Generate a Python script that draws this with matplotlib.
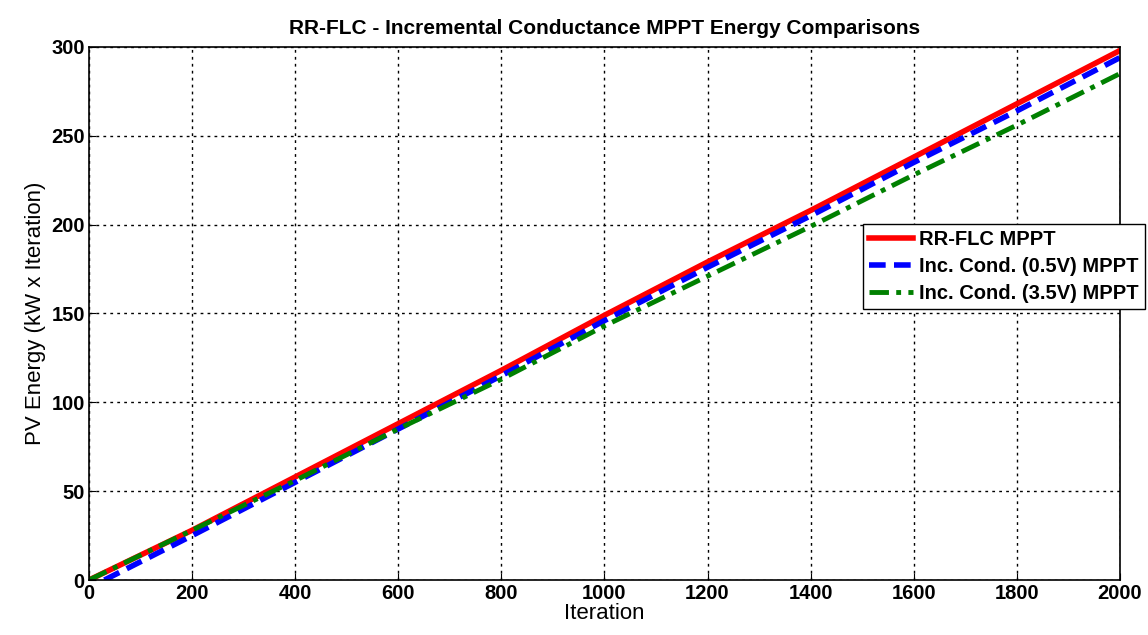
import numpy as np
import matplotlib.pyplot as plt

plt.rcParams['font.family'] = ['Liberation Sans', 'DejaVu Sans']

# values
it_red = [0, 200, 400, 600, 800, 1000, 1200, 1400, 1600, 1800, 2000]
e_red = [0, 28, 58, 88, 118, 149, 179, 208, 238, 268, 298]
it_blue = [30, 200, 400, 600, 800, 1000, 1200, 1400, 1600, 1800, 2000]
e_blue = [0, 25, 55, 85, 115, 146, 176, 205, 235, 264, 294]
it_green = [0, 200, 400, 600, 800, 1000, 1200, 1400, 1600, 1800, 2000]
e_green = [0, 28, 56, 85, 113, 143, 171, 199, 228, 256, 285]

names = ["RR-FLC MPPT", "Inc. Cond. (0.5V) MPPT", "Inc. Cond. (3.5V) MPPT"]

fig = plt.figure(figsize=(11.48, 6.35), dpi=100)
ax = fig.add_axes([0.0775, 0.0866, 0.898, 0.8394])

ax.plot(it_red, e_red, color='red', lw=4, label=names[0])
ax.plot(it_blue, e_blue, color='blue', lw=4, ls=(0, (3, 1.5)), label=names[1])
ax.plot(it_green, e_green, color='green', lw=3.5, ls=(0, (4, 1.5, 1, 1.5)), label=names[2])

ax.set_xlim(0, 2000)
ax.set_ylim(0, 300)
ax.set_xticks(np.arange(0, 2001, 200))
ax.set_yticks(np.arange(0, 301, 50))
ax.grid(True, color='black', ls=(0, (2, 3)), lw=1)
for s in ax.spines.values():
    s.set_linewidth(1.2)
ax.tick_params(direction='in', labelsize=14.5, length=5, pad=3)
for lab in ax.get_xticklabels() + ax.get_yticklabels():
    lab.set_fontweight('bold')

ax.set_xlabel("Iteration", fontsize=16, labelpad=0)
ax.set_ylabel("PV Energy (kW x Iteration)", fontsize=16, labelpad=4)
ax.set_title("RR-FLC - Incremental Conductance MPPT Energy Comparisons",
             fontsize=15, fontweight='bold', pad=9)

leg = ax.legend(loc='upper right', bbox_to_anchor=(0.997, 0.648),
                bbox_transform=fig.transFigure, prop={'size': 14.5, 'weight': 'bold'},
                fancybox=False, edgecolor='black', framealpha=1,
                handlelength=2.2, handletextpad=0.3, borderpad=0.3, labelspacing=0.4,
                borderaxespad=0)
leg.get_frame().set_linewidth(1)

fig.savefig("out.png", dpi=100)
